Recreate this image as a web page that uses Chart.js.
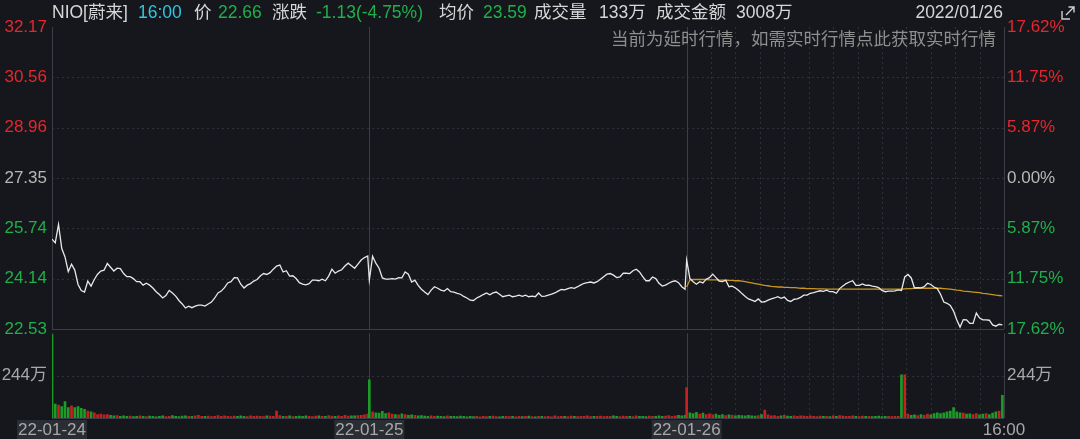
<!DOCTYPE html>
<html><head><meta charset="utf-8">
<script src="https://cdn.jsdelivr.net/npm/chart.js@4.4.0/dist/chart.umd.min.js"></script>
<style>
html,body{margin:0;padding:0;background:#15171c;width:1080px;height:439px;overflow:hidden;}
#wrap{position:relative;width:1080px;height:439px;}
canvas{position:absolute;left:0;}
#cv{top:318px;}
#cp{top:0;}
.t{position:absolute;top:2px;font-size:17.5px;font-family:'Liberation Sans','Noto Sans CJK SC',sans-serif;white-space:nowrap;line-height:20px;color:#d6d6d6;}
.g{color:#1fb04a;}
</style></head>
<body><div id="wrap">
<canvas id="cv" width="1080" height="121"></canvas>
<canvas id="cp" width="1080" height="345"></canvas>
<span class="t" style="left:52px">NIO[蔚来]</span>
<span class="t" style="left:138px;color:#2fc6e0">16:00</span>
<span class="t" style="left:194px">价</span>
<span class="t g" style="left:218px">22.66</span>
<span class="t" style="left:272px">涨跌</span>
<span class="t g" style="left:316px">-1.13(-4.75%)</span>
<span class="t" style="left:439px">均价</span>
<span class="t g" style="left:483px">23.59</span>
<span class="t" style="left:534px">成交量</span>
<span class="t" style="left:599px">133万</span>
<span class="t" style="left:656px">成交金额</span>
<span class="t" style="left:736px">3008万</span>
<span class="t" style="right:77px">2022/01/26</span>
<span class="t" style="right:84px;top:28px;color:#8e8e8e;font-size:17.5px;font-family:'Noto Sans CJK SC',sans-serif">当前为延时行情，如需实时行情点此获取实时行情</span>
<svg style="position:absolute;left:1059px;top:4px" width="18" height="18" viewBox="0 0 18 18"><path d="M3 7 V15 H11" stroke="#cfcfcf" fill="none" stroke-width="1.4"/><path d="M7 11 L15 3 M9.5 3 H15 V8.5" stroke="#cfcfcf" fill="none" stroke-width="1.4"/></svg>
</div>
<script>
// ---- data ----
const dayLabels = ['22-01-24','22-01-25','22-01-26','16:00'];
const dayTickMinutes = [0,390,780,1170];
const minutesPerDay = 390;
const sampleStep = 4; // minutes between samples
const priceTicks = [22.53,24.14,25.74,27.35,28.96,30.56,32.17];
const pctLabels = ['17.62%','11.75%','5.87%','0.00%','5.87%','11.75%','17.62%'];
const prevClose = 27.35;
const volTicks = [244];
const volMax = 488;

const day1Price = [25.40,25.28,25.87,25.10,24.83,24.36,24.60,24.41,23.95,23.76,
 23.71,24.06,23.90,24.11,24.28,24.38,24.41,24.62,24.50,24.38,
 24.47,24.46,24.30,24.20,24.20,24.14,24.04,24.04,23.93,23.99,
 23.93,23.84,23.72,23.63,23.52,23.60,23.76,23.68,23.58,23.44,
 23.33,23.20,23.26,23.21,23.26,23.29,23.29,23.26,23.33,23.39,
 23.52,23.68,23.74,23.85,24.00,24.04,24.17,24.16,23.96,23.84,
 23.93,23.98,24.06,24.11,24.22,24.30,24.27,24.33,24.44,24.54,
 24.57,24.35,24.39,24.22,24.23,24.14,24.01,23.96,23.94,23.98,
 24.09,24.09,24.07,24.12,24.07,24.22,24.44,24.31,24.38,24.42,
 24.54,24.63,24.55,24.47,24.60,24.73,24.81,24.86];
const day2Price = [24.09,24.85,24.63,24.47,24.16,24.12,24.12,24.14,24.12,24.17,
 24.16,24.35,24.28,24.03,24.09,23.92,23.80,23.71,23.63,23.77,
 23.88,23.83,23.77,23.74,23.82,23.72,23.71,23.67,23.64,23.57,
 23.52,23.45,23.44,23.52,23.57,23.63,23.68,23.62,23.68,23.71,
 23.64,23.56,23.59,23.61,23.56,23.58,23.61,23.57,23.61,23.56,
 23.58,23.56,23.68,23.57,23.58,23.61,23.64,23.68,23.74,23.79,
 23.78,23.82,23.85,23.83,23.88,23.94,23.99,24.01,24.03,24.00,
 24.04,24.12,24.20,24.28,24.30,24.25,24.17,24.19,24.31,24.31,
 24.30,24.39,24.44,24.35,24.20,24.07,24.07,24.19,24.14,23.99,
 23.90,23.93,23.99,24.04,24.07,24.01,23.88,23.80];
const day3Price = [24.73,24.14,24.04,23.96,24.04,24.00,24.12,24.17,24.28,24.17,
 24.06,24.04,24.09,23.88,23.90,23.84,23.76,23.66,23.57,23.49,
 23.45,23.41,23.49,23.39,23.40,23.45,23.49,23.52,23.56,23.51,
 23.55,23.44,23.41,23.48,23.49,23.54,23.61,23.61,23.67,23.69,
 23.72,23.75,23.73,23.77,23.72,23.72,23.67,23.82,23.90,23.98,
 24.03,24.07,23.92,23.92,23.97,23.92,23.93,23.90,23.88,23.85,
 23.76,23.72,23.74,23.74,23.75,23.78,23.76,24.19,24.27,24.16,
 23.84,23.85,23.84,23.88,23.99,23.95,23.87,23.82,23.64,23.39,
 23.35,23.28,23.10,22.82,22.59,22.83,22.82,22.71,22.71,23.04,
 22.88,22.82,22.82,22.81,22.66,22.62,22.68,22.66];
const day3Avg = [23.87,24.10,24.11,24.11,24.11,24.11,24.11,24.10,24.10,24.10,
 24.09,24.09,24.09,24.08,24.08,24.07,24.07,24.06,24.04,24.02,
 24.00,23.98,23.96,23.94,23.92,23.91,23.89,23.88,23.87,23.87,
 23.86,23.86,23.85,23.85,23.84,23.83,23.83,23.82,23.82,23.82,
 23.81,23.81,23.81,23.80,23.80,23.80,23.80,23.80,23.80,23.80,
 23.80,23.80,23.80,23.80,23.80,23.80,23.80,23.80,23.80,23.80,
 23.80,23.80,23.80,23.80,23.80,23.80,23.80,23.81,23.82,23.82,
 23.83,23.83,23.83,23.83,23.83,23.83,23.83,23.83,23.83,23.82,
 23.81,23.80,23.79,23.77,23.76,23.74,23.73,23.72,23.71,23.70,
 23.69,23.67,23.66,23.64,23.63,23.61,23.60,23.59];
const day1Vol = [480,80,75,65,95,60,70,60,65,55,
 50,40,35,30,20,22,18,20,15,12,
 14,10,12,9,11,8,10,12,9,8,
 11,10,7,9,12,8,10,14,9,8,
 11,13,10,9,12,16,10,9,11,8,
 10,14,9,12,10,8,11,9,13,10,
 8,12,9,11,10,8,13,11,9,40,
 14,10,9,12,8,10,11,9,13,10,
 8,11,12,9,10,14,11,9,12,10,
 15,11,13,12,14,16,18,22];
const day2Vol = [220,35,30,28,38,25,30,22,20,18,
 24,20,16,18,15,12,14,11,10,12,
 9,11,10,8,12,9,10,8,11,9,
 7,10,8,9,7,10,8,9,11,8,
 7,9,10,8,9,7,10,8,9,11,
 8,7,9,10,8,9,7,12,8,9,
 10,8,11,9,8,10,9,12,8,10,
 9,11,8,10,9,13,10,8,11,9,
 10,8,12,9,10,8,11,9,10,12,
 9,11,14,10,12,15,13,16];
const day3Vol = [175,30,26,32,22,28,20,24,18,22,
 16,20,14,18,15,12,16,14,12,15,
 13,11,14,20,45,18,12,14,10,12,
 16,11,9,12,10,13,11,9,12,10,
 8,11,9,10,8,12,9,14,11,10,
 9,12,10,8,11,9,10,8,9,11,
 8,10,9,8,10,9,248,248,22,15,
 18,14,20,16,22,18,25,30,25,30,
 35,40,60,35,30,28,22,24,20,26,
 18,22,25,20,28,35,40,131];

// ---- build ----
const C = {red:'#e8262d', green:'#1fb04a', gray:'#b8b8b8', grid:'#2e3138', axis:'#3b3e46',
  volRed:'#c62020', volGreen:'#1c9c26', line:'#e8e8e8', avg:'#c9971f'};
const FONT = "'Liberation Sans','Noto Sans CJK SC',sans-serif";
const priceDays = [day1Price, day2Price, day3Price];
const volDays = [day1Vol, day2Vol, day3Vol];
const pricePoints = [], volPoints = [], volColors = [];
let prev = null;
priceDays.forEach((arr,d)=>arr.forEach((v,k)=>{
  const x = d*minutesPerDay + k*sampleStep;
  pricePoints.push({x, y:v});
  volPoints.push({x, y:volDays[d][k]});
  volColors.push(prev===null || v < prev ? C.volGreen : C.volRed);
  prev = v;
}));
const avgPoints = day3Avg.map((v,k)=>({x: 2*minutesPerDay + k*sampleStep, y:v}));

function tickColor(v){ if (v < prevClose-0.001) return C.green; if (v > prevClose+0.001) return C.red; return C.gray; }

function vline(ctx,x,top,bottom,dashed){
  ctx.beginPath(); ctx.setLineDash(dashed?[2,3]:[]);
  ctx.strokeStyle = dashed?C.grid:C.axis;
  const px = Math.round(x)+0.5; ctx.moveTo(px,top); ctx.lineTo(px,bottom); ctx.stroke();
}
function hline(ctx,y,left,right,dashed){
  ctx.beginPath(); ctx.setLineDash(dashed?[2,3]:[]);
  ctx.strokeStyle = dashed?C.grid:C.axis;
  const py = Math.round(y)+0.5; ctx.moveTo(left,py); ctx.lineTo(right,py); ctx.stroke();
}
function drawVerticals(chart){
  const {ctx, chartArea:{top,bottom}, scales:{x}} = chart;
  for (let m = 2*minutesPerDay + 30; m < 3*minutesPerDay; m += 30) vline(ctx, x.getPixelForValue(m), top, bottom, true);
  dayTickMinutes.forEach(m => vline(ctx, x.getPixelForValue(m), top, bottom, false));
}
const gridPrice = {id:'gridPrice', beforeDatasetsDraw(chart){
  const {ctx, chartArea:{left,right}, scales:{y}} = chart;
  ctx.save(); ctx.lineWidth = 1;
  priceTicks.forEach((v,i)=>{ if (i===priceTicks.length-1) return; hline(ctx, y.getPixelForValue(v), left, right, i!==0); });
  drawVerticals(chart);
  ctx.restore();
}};
const gridVol = {id:'gridVol', beforeDatasetsDraw(chart){
  const {ctx, chartArea:{left,right,bottom}, scales:{y}} = chart;
  ctx.save(); ctx.lineWidth = 1;
  volTicks.forEach(v=>hline(ctx, y.getPixelForValue(v), left, right, true));
  drawVerticals(chart);
  hline(ctx, bottom-0.5, left, right, false);
  ctx.restore();
}};

const setTicks = arr => s => { s.ticks = arr.map(v=>({value:v})); };
const noGrid = {display:false, drawTicks:false, tickLength:0};
const noBorder = {display:false};

new Chart(document.getElementById('cp'), {
  type:'line',
  data:{datasets:[
    {data:pricePoints, borderColor:C.line, borderWidth:1.3, pointRadius:0, tension:0, yAxisID:'y'},
    {data:avgPoints, borderColor:C.avg, borderWidth:1.3, pointRadius:0, tension:0, yAxisID:'y'}
  ]},
  options:{
    responsive:false, animation:false, devicePixelRatio:1, parsing:false, normalized:true,
    layout:{padding:{top:27,bottom:16,left:0,right:0}},
    plugins:{legend:{display:false}, tooltip:{enabled:false}},
    scales:{
      x:{type:'linear', min:0, max:3*minutesPerDay, display:false},
      y:{type:'linear', position:'left', min:priceTicks[0], max:priceTicks[priceTicks.length-1],
        afterBuildTicks:setTicks(priceTicks), afterFit:s=>{s.width=52;},
        grid:noGrid, border:noBorder,
        ticks:{autoSkip:false, padding:5, color:c=>tickColor(c.tick.value), font:{family:FONT,size:17},
          callback:v=>Number(v).toFixed(2)}},
      yr:{type:'linear', position:'right', min:priceTicks[0], max:priceTicks[priceTicks.length-1],
        afterBuildTicks:setTicks(priceTicks), afterFit:s=>{s.width=76;},
        grid:noGrid, border:noBorder,
        ticks:{autoSkip:false, padding:3, color:c=>tickColor(c.tick.value), font:{family:FONT,size:17},
          callback:(v,i)=>pctLabels[i]}}
    }
  },
  plugins:[gridPrice]
});

new Chart(document.getElementById('cv'), {
  type:'bar',
  data:{datasets:[{data:volPoints, backgroundColor:volColors, barThickness:2, borderWidth:0, yAxisID:'y'}]},
  options:{
    responsive:false, animation:false, devicePixelRatio:1, parsing:false, normalized:true,
    layout:{padding:{top:11,bottom:0,left:0,right:0}},
    plugins:{legend:{display:false}, tooltip:{enabled:false}},
    scales:{
      x:{type:'linear', min:0, max:3*minutesPerDay, offset:false,
        afterBuildTicks:setTicks(dayTickMinutes), afterFit:s=>{s.height=21;},
        grid:noGrid, border:noBorder,
        ticks:{autoSkip:false, maxRotation:0, padding:2, color:'#a8a8a8', font:{family:FONT,size:17},
          showLabelBackdrop:true, backdropColor:c=>c.index===3?'rgba(0,0,0,0)':'#2a2d33',
          backdropPadding:{top:0,bottom:0,left:1,right:1},
          callback:(v,i)=>dayLabels[i]}},
      y:{type:'linear', position:'left', min:0, max:volMax,
        afterBuildTicks:setTicks(volTicks), afterFit:s=>{s.width=52;},
        grid:noGrid, border:noBorder,
        ticks:{autoSkip:false, padding:5, color:'#a8a8a8', font:{family:FONT,size:17}, callback:v=>v+'万'}},
      yr:{type:'linear', position:'right', min:0, max:volMax,
        afterBuildTicks:setTicks(volTicks), afterFit:s=>{s.width=76;},
        grid:noGrid, border:noBorder,
        ticks:{autoSkip:false, padding:3, color:'#a8a8a8', font:{family:FONT,size:17}, callback:v=>v+'万'}}
    }
  },
  plugins:[gridVol]
});
</script>
</body></html>
